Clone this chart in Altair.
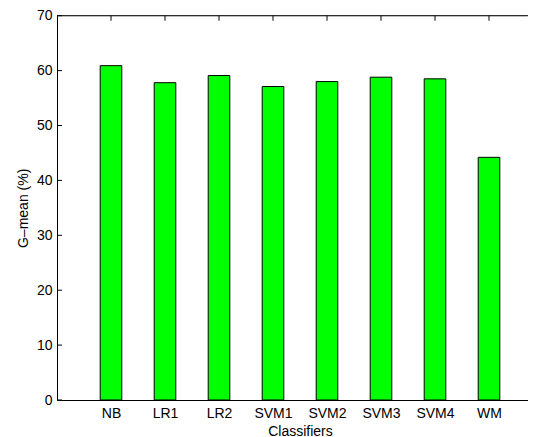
import altair as alt
import pandas as pd

# ---- data ----
classifiers = ["NB", "LR1", "LR2", "SVM1", "SVM2", "SVM3", "SVM4", "WM"]
gmean = [60.9, 57.8, 59.1, 57.1, 58.0, 58.8, 58.5, 44.2]
y_ticks = [0, 10, 20, 30, 40, 50, 60, 70]

positions = list(range(1, len(classifiers) + 1))
df = pd.DataFrame({"name": classifiers, "value": gmean, "pos": positions})
df_yt = pd.DataFrame({"t": y_ticks})
df_frame = pd.DataFrame({"k": [0]})

FONT = "Liberation Sans"
UNIT = 54.0          # px per category step
W = 471              # visible plot width (reference axis runs past the image edge)
H = 384.3
BAR_HALF = 0.2

xscale = alt.Scale(domain=[0, W / UNIT], nice=False, zero=False)
yscale = alt.Scale(domain=[0, 70], nice=False)

label_expr = "[" + ",".join("'" + c + "'" for c in classifiers) + "][datum.value - 1]"

xaxis = alt.Axis(values=positions, labelExpr=label_expr, ticks=False,
                 grid=False, domain=True, domainColor="#000000",
                 labelFont=FONT, labelFontSize=14, labelColor="#000000",
                 labelPadding=6, title="Classifiers", titleFont=FONT,
                 titleFontSize=14, titleFontWeight="normal",
                 titleColor="#000000", titlePadding=4, titleX=4.5 * UNIT)
yaxis = alt.Axis(values=y_ticks, ticks=False, grid=False, domain=True,
                 domainColor="#000000", labelFont=FONT, labelFontSize=14,
                 labelColor="#000000", labelPadding=5,
                 title="G–mean (%)", titleFont=FONT, titleFontSize=14,
                 titleFontWeight="normal", titleColor="#000000",
                 titlePadding=6)

bars = alt.Chart(df).transform_calculate(
    x0=f"datum.pos - {BAR_HALF}", x1=f"datum.pos + {BAR_HALF}"
).mark_bar(color="#00FF00", stroke="#000000", strokeWidth=1).encode(
    x=alt.X("x0:Q", scale=xscale, axis=xaxis),
    x2="x1:Q",
    y=alt.Y("value:Q", scale=yscale, axis=yaxis),
    y2=alt.datum(0),
)

# inward y ticks (MATLAB style)
yticks = alt.Chart(df_yt).mark_rule(color="#000000", strokeWidth=1).encode(
    y=alt.Y("t:Q", scale=yscale, axis=yaxis),
    x=alt.value(0),
    x2=alt.value(5),
)

# inward ticks on the top edge
top_ticks = alt.Chart(df).mark_rule(color="#000000", strokeWidth=1).encode(
    x=alt.X("pos:Q", scale=xscale, axis=xaxis),
    y=alt.value(0),
    y2=alt.value(5),
)

# top frame line
top_line = alt.Chart(df_frame).mark_rule(color="#000000", strokeWidth=1).encode(
    x=alt.value(0),
    x2=alt.value(W),
    y=alt.value(0),
)

# the reference has no visible right frame edge (it lies beyond the image)
right_cover = alt.Chart(df_frame).mark_rule(color="#ffffff", strokeWidth=3).encode(
    x=alt.value(W),
    y=alt.value(1),
    y2=alt.value(H - 1),
)

chart = alt.layer(bars, yticks, top_ticks, top_line, right_cover).properties(
    width=W, height=H,
    autosize=alt.AutoSizeParams(type="none"),
    padding={"left": 49, "top": 7.7, "right": 0, "bottom": 37},
).configure_view(strokeWidth=0, stroke="transparent").configure(background="white")

chart.save("out.html", embed_options={"renderer": "svg", "actions": False})
